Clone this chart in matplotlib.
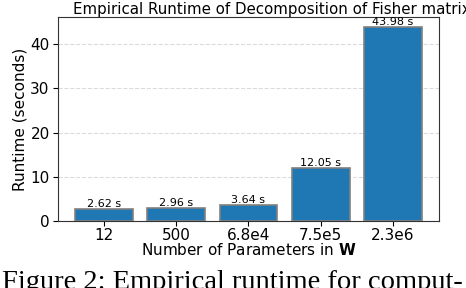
import matplotlib
matplotlib.use("Agg")
import matplotlib.pyplot as plt

params = ["12", "500", "6.8e4", "7.5e5", "2.3e6"]
runtime = [2.62, 2.96, 3.64, 12.05, 43.98]

fig = plt.figure(figsize=(4.66, 2.88), dpi=100)
ax = fig.add_axes([58/466, 1 - 221/288, (439-58)/466, (221-17)/288])

bars = ax.bar(range(len(params)), runtime, width=0.8, color="#1f77b4",
              edgecolor="gray", linewidth=1.2, zorder=3)
for b, v in zip(bars, runtime):
    ax.text(b.get_x() + b.get_width()/2, v, f"{v:.2f} s", ha="center",
            va="bottom", fontsize=8, zorder=4)

ax.set_xticks(range(len(params)))
ax.set_xticklabels(params, fontsize=11)
ax.tick_params(axis="y", labelsize=11, pad=2.5)
ax.tick_params(axis="x", pad=1.5)
ax.set_yticks([0, 10, 20, 30, 40])
ax.grid(axis="y", linestyle="--", color="lightgray", alpha=0.8, zorder=0)
ax.set_ylabel("Runtime (seconds)", fontsize=11, labelpad=2)
ax.set_xlabel(r"Number of Parameters in $\mathbf{W}$", fontsize=11, labelpad=-1)
ax.set_title("Empirical Runtime of Decomposition of Fisher matrix",
             fontsize=10.8, pad=2, x=0.562)
for s in ax.spines.values():
    s.set_color("#333333")

fig.text(2/466, -1/288, "Figure 2: Empirical runtime for comput-",
         family="Liberation Serif", fontsize=20.5, va="baseline", ha="left")

fig.savefig("out.png", dpi=100)
